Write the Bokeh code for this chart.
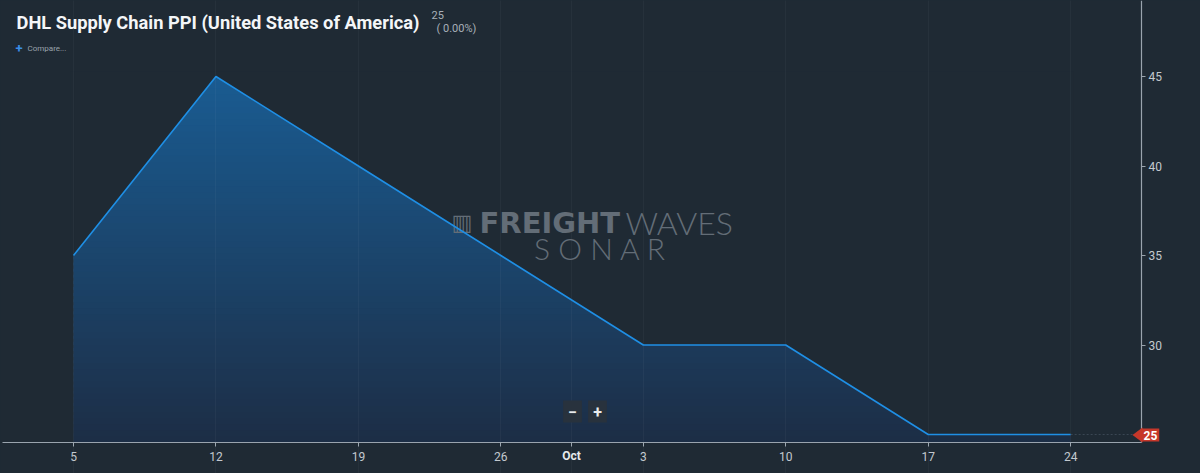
import pandas as pd
import numpy as np
from bokeh.plotting import figure
from bokeh.models import Range1d, FixedTicker, Label, PolyAnnotation, GlobalInlineStyleSheet
from bokeh.embed import file_html
from bokeh.resources import INLINE

# ---- data ----
dates = ["2019-09-05", "2019-09-12", "2019-09-19", "2019-09-26",
         "2019-10-03", "2019-10-10", "2019-10-17", "2019-10-24"]
ppi = [35, 45, 40, 35, 30, 30, 25, 25]
x_tick_dates = ["2019-09-05", "2019-09-12", "2019-09-19", "2019-09-26", "2019-09-29 10:45",
                "2019-10-03", "2019-10-10", "2019-10-17", "2019-10-24"]
x_tick_labels = ["5", "12", "19", "26", "Oct", "3", "10", "17", "24"]
y_ticks = [30, 35, 40, 45]
title_text = "DHL Supply Chain PPI (United States of America)"
last_value_text = "25"
change_text = "( 0.00%)"

BG = "#1f2a34"
W, H = 1200, 473

dt = pd.to_datetime(dates)
x_ms = [t.value / 1e6 for t in dt]
tick_ms = [pd.Timestamp(t).value / 1e6 for t in x_tick_dates]

DAY = 86400000.0
px_per_day = 20.35
x0 = x_ms[0] - 73 / px_per_day * DAY
x1 = x0 + W / px_per_day * DAY
px_per_unit = 17.9
y_top = 45 + 76 / px_per_unit
y_bot = y_top - H / px_per_unit
PX = (x1 - x0) / W  # one pixel in ms

def fx(px):
    return x0 + px * (x1 - x0) / W

def fy(py):
    return y_top - py * (y_top - y_bot) / H

x_axis_val = fy(442)     # where the time axis sits
y_axis_val = fx(1141)    # where the value axis sits

p = figure(width=W, height=H, x_axis_type="datetime", y_axis_location="right",
           output_backend="svg", toolbar_location=None,
           x_range=Range1d(x0, x1), y_range=Range1d(y_bot, y_top),
           min_border=0, min_border_left=0, min_border_right=0,
           min_border_top=0, min_border_bottom=0,
           background_fill_color=BG, border_fill_color=BG, outline_line_color=None)
p.stylesheets = [GlobalInlineStyleSheet(css=f"body{{margin:0;background:{BG};overflow:hidden;}}")]

# ---- gradient fill: horizontal bands masked above the series ----
c_top = np.array([0x1a, 0x5c, 0x92])
c_bot = np.array([0x1d, 0x2e, 0x46])
vmax = max(ppi)
n = 60
edges = np.linspace(x_axis_val, vmax, n + 1)
step = edges[1] - edges[0]
cols = []
for i in range(n):
    t = (edges[i] + edges[i + 1]) / 2
    f = (t - x_axis_val) / (vmax - x_axis_val)
    c = (c_bot + (c_top - c_bot) * f).astype(int)
    cols.append("#%02x%02x%02x" % tuple(c))
tops = edges[1:].copy()
tops[:-1] += step * 0.5
p.quad(left=x_ms[0], right=x_ms[-1], bottom=edges[:-1], top=tops,
       fill_color=cols, line_color=None)
mask_top = vmax + 0.3
p.varea(x=x_ms, y1=ppi, y2=[mask_top] * len(ppi), fill_color=BG)
# clean up anti-aliased band edges above the first and last points
p.quad(left=[x_ms[0] - 3 * PX, x_ms[-1] - 0.6 * PX], right=[x_ms[0] + 0.6 * PX, x_ms[-1] + 3 * PX],
       bottom=[ppi[0], ppi[-1]], top=[mask_top, mask_top], fill_color=BG, line_color=None)

# dotted guide to the last-value badge
p.line(x=[x_ms[-1], y_axis_val], y=[ppi[-1], ppi[-1]], line_color="#3a4653",
       line_dash="2 2", line_width=1)

# series line
p.line(x=x_ms, y=ppi, line_color="#1f8fe5", line_width=1.6, level="overlay")

# ---- axes (fixed inside the frame) ----
p.xaxis.fixed_location = x_axis_val
p.xaxis.bounds = (fx(2), y_axis_val)
p.yaxis.fixed_location = y_axis_val
p.yaxis.bounds = (x_axis_val, y_top)
p.xaxis.ticker = FixedTicker(ticks=tick_ms)
p.xaxis.major_label_overrides = {m: (lab if lab != "Oct" else "") for m, lab in zip(tick_ms, x_tick_labels)}
p.yaxis.ticker = FixedTicker(ticks=y_ticks)
for ax in (p.xaxis[0], p.yaxis[0]):
    ax.axis_line_color = "#9aa4ae"
    ax.axis_line_width = 1.2
    ax.major_tick_line_color = "#9aa4ae"
    ax.major_tick_out = 4
    ax.major_tick_in = 0
    ax.minor_tick_line_color = None
    ax.major_label_text_color = "#c3c9cf"
    ax.major_label_text_font = "Roboto"
    ax.major_label_text_font_size = "12px"
p.xaxis.major_label_standoff = 5
p.yaxis.major_label_standoff = 3

p.xgrid.grid_line_color = "#ffffff"
p.xgrid.grid_line_alpha = 0.035
p.xgrid.level = "guide"
p.ygrid.grid_line_color = None

# "Oct" month label (bolder)
p.add_layout(Label(x=fx(571), y=fy(455), text="Oct", text_align="center", text_baseline="middle",
                   text_font="Roboto", text_font_size="12px", text_font_style="bold",
                   text_color="#e6e9ec"))

# ---- header texts ----
p.add_layout(Label(x=fx(16), y=fy(22), text=title_text, text_baseline="middle",
                   text_font="Roboto", text_font_size="18.3px",
                   text_font_style="bold", text_color="#f4f6f8"))
p.add_layout(Label(x=fx(431), y=fy(14), text=last_value_text, text_baseline="middle",
                   text_font="Roboto", text_font_size="11px", text_color="#a8b0b8"))
p.add_layout(Label(x=fx(436), y=fy(28), text=change_text, text_baseline="middle",
                   text_font="Roboto", text_font_size="11px", text_color="#a8b0b8"))
p.add_layout(Label(x=fx(15), y=fy(48), text="+", text_baseline="middle",
                   text_font="Roboto", text_font_size="13px", text_font_style="bold",
                   text_color="#3a8ee6"))
p.add_layout(Label(x=fx(27), y=fy(48), text="Compare...", text_baseline="middle",
                   text_font="Roboto", text_font_size="8px", text_color="#9aa3ac"))

# ---- watermark ----
wm = "#636d77"
p.add_layout(Label(x=fx(451), y=fy(222), text="▥", text_baseline="middle",
                   text_font="DejaVu Sans", text_font_size="22px", text_color=wm))
p.add_layout(Label(x=fx(479), y=fy(222), text="FREIGHT", text_baseline="middle",
                   text_font="DejaVu Sans", text_font_size="29px", text_font_style="bold",
                   text_color=wm))
p.add_layout(Label(x=fx(625), y=fy(222), text="WAVES", text_baseline="middle",
                   text_font="Lato Light", text_font_size="32px", text_color=wm))
p.add_layout(Label(x=fx(600), y=fy(247), text="S O N A R", text_align="center", text_baseline="middle",
                   text_font="Lato Light", text_font_size="30px", text_color=wm))

# ---- zoom buttons ----
for px, t in ((572, "−"), (597, "+")):
    p.add_layout(Label(x=fx(px), y=fy(411), text=t, text_align="center", text_baseline="middle",
                       text_font="Roboto", text_font_size="16px", text_font_style="bold",
                       text_color="#e8ebee", background_fill_color="#28323d", padding=5))

# ---- last value badge ----
p.add_layout(PolyAnnotation(xs=[fx(1132), fx(1142), fx(1142)], ys=[fy(434.5), fy(427), fy(442)],
                            fill_color="#c6372a", fill_alpha=1, line_color=None))
p.add_layout(Label(x=fx(1141), y=fy(434.5), text=last_value_text, text_baseline="middle",
                   text_font="Roboto", text_font_size="12px", text_font_style="bold",
                   text_color="#ffffff", background_fill_color="#c6372a", padding=2))

open("out.html", "w").write(file_html(p, INLINE))
